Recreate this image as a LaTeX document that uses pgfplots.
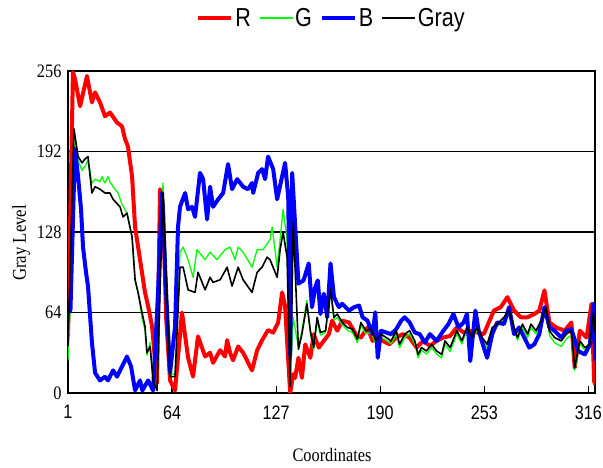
\documentclass[border=0pt]{standalone}
\usepackage{fontspec}
\setmainfont[FakeStretch=0.86]{Liberation Serif}
\newfontfamily\sfn[FakeStretch=0.83]{Liberation Sans}
\usepackage{pgfplots}
\pgfplotsset{compat=1.18}
\begin{document}
\begin{tikzpicture}
\path[use as bounding box] (-68pt,-75pt) rectangle (535pt,393pt);
\begin{axis}[
  scale only axis, width=527pt, height=322pt,
  xmin=1, xmax=320, ymin=0, ymax=256,
  axis line style={line width=1.6pt},
  xtick={1,64,127,190,253,316},
  ytick={0,64,128,192,256},
  xtick pos=bottom, tick align=inside,
  major tick length=7pt,
  x tick style={line width=1.2pt, black},
  y tick style={draw=none},
  ymajorgrids, grid style={black, line width=1.5pt},
  /pgf/number format/assume math mode=true,
  xticklabel style={font=\sfn\fontsize{19.5pt}{22pt}\selectfont, yshift=-9pt},
  yticklabel style={font=\fontsize{19pt}{22pt}\selectfont, xshift=-3pt},
  xlabel={Coordinates}, ylabel={Gray Level},
  xlabel style={font=\fontsize{19pt}{22pt}\selectfont, at={(axis description cs:0.501,-0.1925)}, anchor=center},
  ylabel style={font=\fontsize{19.5pt}{22pt}\selectfont, at={(axis description cs:-0.089,0.466)}, anchor=center, rotate=0},
  legend columns=4,
  legend style={draw=none, fill=none, at={(0.5,1)}, anchor=center, yshift=53pt,
    font=\sfn\fontsize{26pt}{28pt}\selectfont,
    /tikz/every even column/.append style={column sep=6pt}},
  legend image code/.code={\draw[#1] (0pt,0pt) -- (33pt,0pt);},
  every axis plot/.append style={line join=round},
]
\addplot[red, line width=4pt] coordinates {
(1,45) (4.0,255) (5.2,250) (8.3,228) (12.5,252) (15.5,231) (17.4,239) (20.4,231) (23.4,220) (26.4,223) (30.7,215) (33.7,212) (35.5,202) (37.3,196) (39.8,172) (41.6,132) (44.6,106) (47.6,80) (49.5,69) (51.9,53) (53.7,26) (54.9,8) (56.7,162) (58.5,150) (60.4,60) (62.8,10) (65.8,2) (70.0,64) (73.7,28) (76.7,13) (79.7,45) (84.0,29) (87.0,32) (88.8,24) (93.1,34) (96.1,29) (97.3,42) (99.1,32) (100.9,26) (104.0,37) (107.0,32) (112.4,18) (115.5,34) (118.5,42) (122.1,50) (125.2,48) (128.2,56) (130.6,80) (132.4,69) (133.6,42) (135.5,0) (137.3,15)
(138.5,12) (140.5,28) (142.6,12) (144.6,38.7) (147.7,28) (149.7,46.8) (152.8,36.1) (155.8,41.4) (158.9,46.8) (160.9,57.5) (164.0,49.5) (167.0,57.5) (171.1,56.1) (175.2,46.8) (178.3,44.1) (182.3,52.1) (185.4,41.4) (188.5,46.8) (191.5,41.4) (195.6,38.7) (199.7,44.1) (203.7,46.8) (207.8,44.1) (211.9,36.1) (216.0,41.4) (220.1,37.4) (224.1,41.4) (228.2,44.1) (232.3,45.4) (236.4,52.1) (240.5,48.1) (244.5,49.5) (248.6,48.1) (252.7,46.8) (255.7,56.1) (258.8,65.5) (262.9,68.2) (267.0,76.2) (271.0,65.5) (275.1,60.2) (279.2,60.2) (283.3,62.8) (286.3,65.5) (289.4,81.6) (292.4,56.1) (296.5,52.1) (301.6,49.5) (305.7,56.1) (307.7,20.0) (310.8,49.5) (314.9,44.1) (317.9,70.9) (319.5,9.3) (320.2,6.6)
};
\addlegendentry{R}
\addplot[color={rgb,255:red,0;green,255;blue,0}, line width=1.3pt] coordinates {
(1,26) (3.4,100) (5.2,200) (7.1,185) (9.5,177) (11.3,180) (13.1,185) (15.5,167) (17.4,170) (20.4,168) (21.6,172) (23.4,167) (25.2,172) (26.4,168) (28.3,164) (31.3,159) (33.7,150) (36.7,143) (39.8,124) (41.6,90) (43.4,80) (45.8,60) (47.6,50) (48.8,30) (50.7,40) (52.5,12) (54.9,3) (58.5,167) (62.8,15) (65.8,15) (68.8,112) (70.7,116) (73.7,106) (76.7,92) (79.1,114) (84.0,106) (87.0,112) (91.2,106) (96.1,114) (99.1,116) (102.1,106) (104.0,116) (107.0,112) (112.4,100) (115.5,114) (119.1,114) (123.3,122) (124.6,132) (127.6,100) (129.4,122) (131.2,146) (133.6,122) (135.5,10) (137.3,60)
(140.5,36) (142.6,50) (145.6,73.5) (147.7,48) (149.7,34) (151.8,58) (153.8,46) (156.9,48) (159.9,80) (162.0,58) (164.0,60) (167.0,54) (170.1,50) (173.2,48) (176.2,40) (178.3,54) (181.3,47) (184.4,48) (187.4,39) (190.5,44) (193.6,42) (196.6,39) (199.7,47) (201.7,36) (204.8,44) (207.8,47) (210.9,39) (212.9,28) (215.0,34) (218.0,31) (221.1,36) (224.1,31) (227.2,28) (229.2,39) (232.3,33) (236.4,47) (239.4,39) (242.5,50) (245.5,42) (248.6,50) (251.7,42) (254.7,36) (257.8,50) (260.8,53) (264.9,58) (268.0,63) (271.0,50) (273.1,42) (276.1,52) (279.2,44) (281.2,52) (284.3,47) (287.3,55) (290.4,66) (292.4,46) (295.5,40) (299.6,37) (302.6,43) (305.7,46) (307.7,18) (310.8,39) (313.9,34) (316.9,36) (319.0,60) (320.2,42)
};
\addlegendentry{G}
\addplot[blue, line width=4pt] coordinates {
(1,64) (2.5,66) (5.2,194) (7.1,172) (8.9,146) (10.1,116) (11.9,96) (13.1,85) (15.5,40) (17.4,16) (20.4,10) (23.4,13) (25.2,10) (28.3,18) (30.7,13) (33.7,21) (36.7,29) (39.2,21) (41.6,2) (44.6,10) (46.0,2) (49.5,10) (52.5,2) (55.5,80) (57.9,159) (60.4,80) (62.8,16) (65.8,53) (67.6,132) (68.8,148) (71.9,159) (73.7,146) (76.1,148) (77.9,140) (80.9,175) (82.8,170) (85.2,138) (87.0,164) (88.8,148) (91.9,154) (94.9,159) (97.9,182) (100.3,162) (103.4,170) (107.0,164) (110.0,162) (112.4,167) (113.1,159) (116.1,175) (118.5,178) (120.3,170) (122.1,188) (125.2,178) (127.6,154) (132.4,183) (134.3,156) (135.5,30) (136.7,175)
(140.5,86.9) (143.6,89.6) (146.7,103.0) (148.7,68.2) (150.7,84.3) (152.2,89.6) (153.8,62.8) (155.8,78.9) (157.9,60.2) (159.9,103.0) (162.0,76.2) (165.0,68.2) (167.0,70.9) (171.1,65.5) (174.2,68.2) (177.2,69.5) (179.3,60.2) (182.3,57.5) (185.4,46.8) (187.0,64.2) (188.5,28.0) (190.5,49.5) (193.6,48.1) (196.6,46.8) (199.7,50.8) (202.7,57.5) (204.8,60.2) (207.8,56.1) (210.9,48.1) (213.9,46.8) (217.0,40.1) (220.1,46.8) (224.1,41.4) (228.2,49.5) (231.3,54.8) (234.3,62.8) (237.4,52.1) (240.5,56.1) (242.5,62.8) (244.5,25.4) (247.6,65.5) (249.6,49.5) (252.7,36.1) (254.7,28.0) (257.8,46.8) (260.8,56.1) (264.9,54.8) (268.0,68.2) (271.0,46.8) (274.1,52.1) (277.2,44.1) (280.2,36.1) (283.3,38.7) (286.3,46.8) (289.4,68.2) (292.4,52.1) (295.5,49.5) (299.6,44.1) (302.6,49.5) (305.7,50.8) (309.8,33.4) (313.9,30.7) (316.9,38.7) (319.0,70.9) (320.2,25.4)
};
\addlegendentry{B}
\addplot[black, line width=1.6pt] coordinates {
(1,37) (4.6,210) (7.1,188) (9.5,183) (11.3,186) (13.1,188) (15.5,159) (17.4,164) (20.4,162) (23.4,159) (26.4,159) (28.3,154) (32.5,148) (34.3,140) (36.7,143) (39.8,124) (41.6,90) (43.4,80) (45.8,64) (47.6,53) (48.8,32) (50.7,37) (52.5,10) (54.9,2) (58.5,159) (62.8,13) (65.8,13) (68.8,100) (70.7,100) (73.7,82) (77.9,80) (79.7,96) (84.0,82) (87.0,92) (88.8,88) (93.1,90) (97.3,100) (100.3,85) (104.0,100) (107.0,90) (112.4,80) (115.5,96) (118.5,100) (121.5,108) (123.3,106) (127.6,92) (129.4,114) (131.2,128) (133.6,108) (135.5,5) (137.3,136)
(140.5,34.7) (142.6,46.8) (145.6,70.9) (147.7,49.5) (149.7,36.1) (151.8,60.2) (153.8,48.1) (156.9,49.5) (159.9,82.9) (162.0,60.2) (164.0,62.8) (167.0,56.1) (170.1,52.1) (173.2,50.8) (176.2,42.8) (178.3,56.1) (181.3,49.5) (184.4,50.8) (187.4,41.4) (190.5,46.8) (193.6,44.1) (196.6,41.4) (199.7,49.5) (201.7,38.7) (204.8,46.8) (207.8,49.5) (210.9,41.4) (212.9,30.7) (215.0,36.1) (218.0,33.4) (221.1,38.7) (224.1,33.4) (227.2,30.7) (229.2,41.4) (232.3,36.1) (236.4,49.5) (239.4,41.4) (242.5,52.1) (245.5,44.1) (248.6,52.1) (251.7,44.1) (254.7,38.7) (257.8,52.1) (260.8,54.8) (264.9,60.2) (268.0,65.5) (271.0,52.1) (273.1,44.1) (276.1,54.8) (279.2,46.8) (281.2,54.8) (284.3,49.5) (287.3,57.5) (290.4,68.2) (292.4,49.5) (295.5,44.1) (299.6,41.4) (302.6,46.8) (305.7,49.5) (307.7,20.0) (310.8,41.4) (313.9,36.1) (316.9,38.7) (319.0,64.2) (320.2,46.8)
};
\addlegendentry{Gray}
\end{axis}
\end{tikzpicture}
\end{document}
